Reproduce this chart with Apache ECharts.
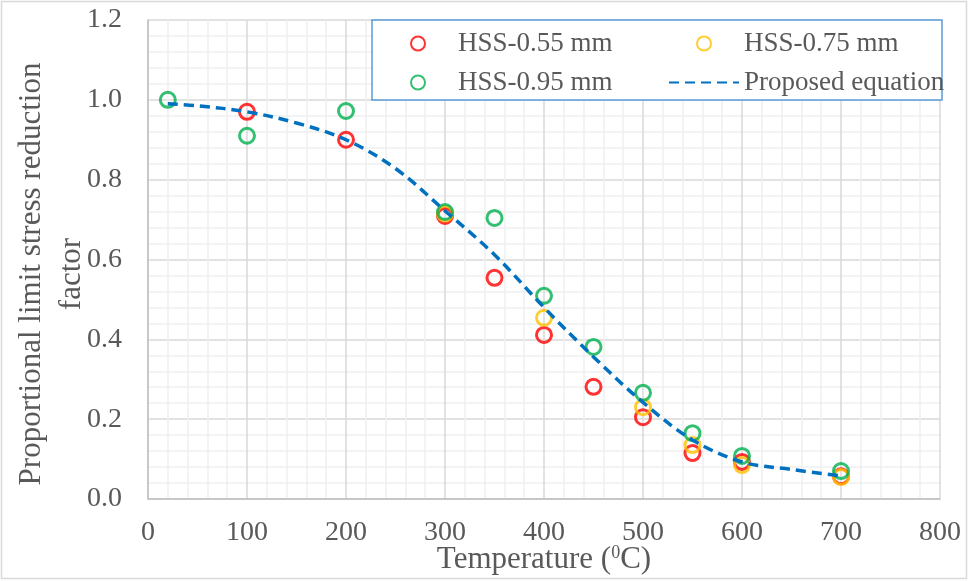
<!DOCTYPE html>
<html>
<head>
<meta charset="utf-8">
<script src="https://cdn.jsdelivr.net/npm/echarts@6/dist/echarts.min.js"></script>
<style>
  html, body { margin: 0; padding: 0; background: #fff; }
  #chart { width: 969px; height: 581px; }
</style>
</head>
<body>
<div id="chart"></div>
<script>
  // temperatures (°C) and reduction factors
  var temps055 = [100, 200, 300, 350, 400, 450, 500, 550, 600, 700];
  var hss055 = [0.97, 0.90, 0.709, 0.554, 0.411, 0.281, 0.205, 0.115, 0.093, 0.057];
  var temps095 = [20, 100, 200, 300, 350, 400, 450, 500, 550, 600, 700];
  var hss095 = [1.0, 0.91, 0.972, 0.719, 0.704, 0.509, 0.381, 0.266, 0.165, 0.108, 0.07];
  var temps075 = [300, 400, 500, 550, 600, 700];
  var hss075 = [0.715, 0.454, 0.23, 0.135, 0.085, 0.055];
  var eqTemps = [20, 50, 100, 150, 200, 250, 300, 350, 400, 450, 500, 550, 600, 650, 700];
  var eqVals = [0.99, 0.985, 0.97, 0.942, 0.90, 0.828, 0.722, 0.612, 0.48, 0.356, 0.242, 0.148, 0.093, 0.074, 0.058];

  function pairs(xs, ys) {
    return xs.map(function (x, i) { return [x, ys[i]]; });
  }

  var font = "'Liberation Serif', 'Times New Roman', serif";
  var txt = '#595959';

  function dots(name, color, xs, ys) {
    return {
      name: name,
      type: 'scatter',
      data: pairs(xs, ys),
      symbol: 'circle',
      symbolSize: 15,
      itemStyle: { color: 'rgba(0,0,0,0)', borderColor: color, borderWidth: 3 },
      z: 2
    };
  }

  var legendText = { fontFamily: font, fontSize: 27, color: txt, lineHeight: 26 };

  var chart = echarts.init(document.getElementById('chart'));
  chart.setOption({
    animation: false,
    backgroundColor: '#fff',
    grid: { left: 148, right: 29, top: 20, bottom: 82, outerBoundsMode: 'none' },
    xAxis: {
      type: 'value', min: 0, max: 800, interval: 100,
      name: 'Temperature ({sup|0}C)',
      nameLocation: 'middle', nameGap: 45, nameMoveOverlap: false,
      nameTextStyle: {
        fontFamily: font, fontSize: 31, color: txt,
        rich: { sup: { fontFamily: font, fontSize: 18, color: txt, verticalAlign: 'top' } }
      },
      axisLine: { show: true, lineStyle: { color: '#BFBFBF', width: 1.5 } },
      axisTick: { show: false },
      axisLabel: { fontFamily: font, fontSize: 28, color: txt, margin: 20 },
      splitLine: { show: true, lineStyle: { color: '#D9D9D9', width: 1.5 } },
      minorTick: { show: false, splitNumber: 5 },
      minorSplitLine: { show: true, lineStyle: { color: '#F0F0F0', width: 1.5 } }
    },
    yAxis: {
      type: 'value', min: 0, max: 1.2, interval: 0.2,
      name: 'Proportional limit stress reduction\nfactor',
      nameLocation: 'middle', nameGap: 56, nameMoveOverlap: false,
      nameTextStyle: {
        fontFamily: font, fontSize: 31, lineHeight: 40, color: txt,
        padding: [0, 29, 0, 0]
      },
      axisLine: { show: true, lineStyle: { color: '#BFBFBF', width: 1.5 } },
      axisTick: { show: false },
      axisLabel: {
        fontFamily: font, fontSize: 28, color: txt, margin: 26,
        formatter: function (v) { return v.toFixed(1); }
      },
      splitLine: { show: true, lineStyle: { color: '#D9D9D9', width: 1.5 } },
      minorTick: { show: false, splitNumber: 5 },
      minorSplitLine: { show: true, lineStyle: { color: '#F0F0F0', width: 1.5 } }
    },
    legend: [
      {
        data: ['HSS-0.55 mm', 'HSS-0.95 mm'],
        orient: 'vertical', left: 405, top: 25,
        itemWidth: 70, itemHeight: 14, itemGap: 12, itemTextGap: 5,
        textStyle: legendText,
        z: 5
      },
      {
        data: ['HSS-0.75 mm', { name: 'Proposed equation', itemStyle: { opacity: 0 } }],
        orient: 'vertical', left: 663, top: 25,
        itemWidth: 70, itemHeight: 14, itemGap: 12, itemTextGap: 5,
        textStyle: legendText,
        z: 5
      }
    ],
    graphic: [
      {
        type: 'rect', silent: true, z: 3,
        shape: { x: 372, y: 20, width: 570, height: 80 },
        style: { fill: '#fff', stroke: '#5B9BD5', lineWidth: 1.5 }
      },
      {
        type: 'rect', silent: true, z: 1,
        shape: { x: 1.5, y: 1.5, width: 965, height: 577 },
        style: { fill: 'none', stroke: '#D9D9D9', lineWidth: 1.5 }
      }
    ],
    series: [
      dots('HSS-0.55 mm', '#FF0000', temps055, hss055),
      dots('HSS-0.75 mm', '#FFC000', temps075, hss075),
      dots('HSS-0.95 mm', '#00B050', temps095, hss095),
      {
        name: 'Proposed equation',
        type: 'line',
        data: pairs(eqTemps, eqVals),
        smooth: 0.35,
        symbol: 'none',
        lineStyle: { color: '#0070C0', width: 3.5, type: [10, 6] },
        itemStyle: { color: '#0070C0' },
        z: 3
      }
    ]
  });
</script>
</body>
</html>
